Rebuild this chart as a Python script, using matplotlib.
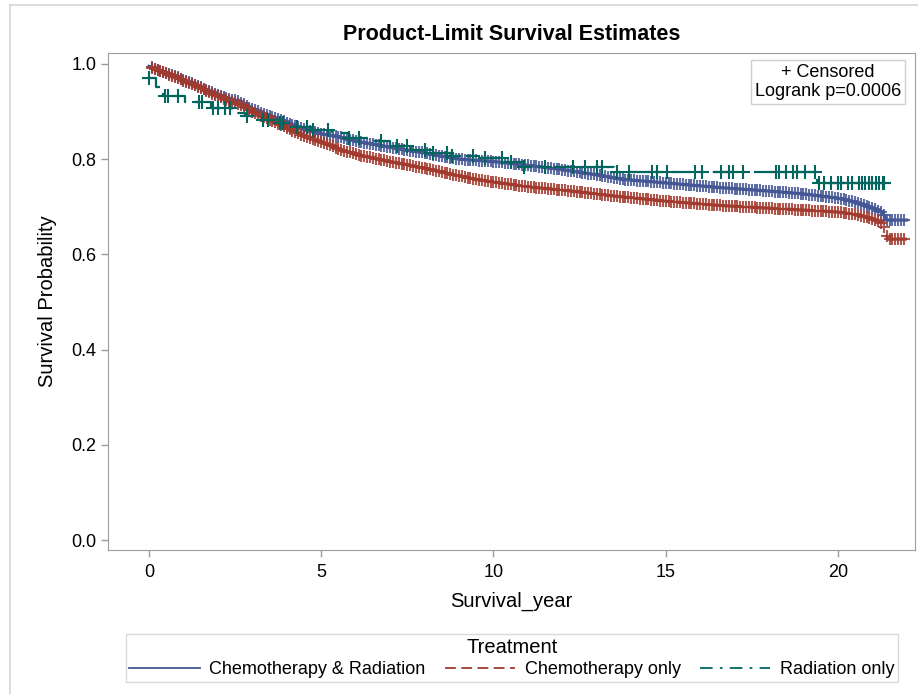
import numpy as np
import matplotlib.pyplot as plt
from matplotlib.lines import Line2D

plt.rcParams['font.family'] = ['Liberation Sans', 'DejaVu Sans']

# KM curves (time in years, survival probability)
cr_time = [0, 1, 2, 2.64, 3, 4, 4.4, 5, 5.5, 6, 7, 8, 9, 10, 11, 12, 13, 13.7,
           15, 16.3, 17, 18, 19, 20, 20.5, 21, 21.3, 21.4, 22]
cr_surv = [0.995, 0.967, 0.935, 0.92, 0.905, 0.877, 0.865, 0.853, 0.847, 0.838,
           0.825, 0.813, 0.800, 0.795, 0.787, 0.778, 0.767, 0.758, 0.750, 0.742,
           0.738, 0.733, 0.727, 0.718, 0.710, 0.697, 0.688, 0.672, 0.672]

c_time = [0, 1, 1.2, 2, 2.64, 3, 4, 4.4, 5, 5.5, 6, 7, 8, 9, 9.6, 10, 11, 12, 13,
          13.7, 15, 16.3, 17, 18, 19, 20, 20.5, 21, 21.3, 21.45, 22]
c_surv = [0.995, 0.965, 0.960, 0.932, 0.914, 0.900, 0.866, 0.852, 0.836, 0.822,
          0.810, 0.795, 0.781, 0.765, 0.756, 0.752, 0.742, 0.735, 0.727, 0.721,
          0.712, 0.704, 0.701, 0.697, 0.693, 0.689, 0.684, 0.675, 0.665, 0.632, 0.632]

r_time = [0, 0.2, 0.42, 1.05, 1.8, 2.4, 2.8, 3.3, 3.8, 4.3, 4.7, 5.3, 5.8, 6.4,
          7.0, 7.6, 8.2, 8.8, 9.6, 10.3, 10.9, 13.5, 19.4, 21.35]
r_surv = [0.970, 0.952, 0.932, 0.920, 0.908, 0.896, 0.890, 0.882, 0.876, 0.868,
          0.862, 0.855, 0.845, 0.838, 0.828, 0.820, 0.812, 0.806, 0.802, 0.795,
          0.784, 0.773, 0.750, 0.750]

# censored observations: the two chemo groups show a mark at nearly every month
cr_last_cens_month = 263
c_last_cens_month = 263
r_cens = [0.0, 0.46, 0.55, 0.84, 1.45, 1.54, 1.86, 2.0, 2.2, 2.35, 2.85, 3.3, 3.45,
          3.8, 3.9, 4.3, 4.6, 4.75, 5.2, 5.8, 6.1, 6.75, 7.2, 7.5, 8.0, 8.25, 8.65,
          8.8, 9.4, 9.75, 10.25, 10.5, 10.9, 11.5, 12.3, 12.65, 13.0, 13.15, 13.6,
          13.95, 14.6, 14.75, 15.05, 15.85, 16.05, 16.6, 16.85, 16.95, 17.25, 18.2,
          18.3, 18.5, 18.7, 18.8, 19.05, 19.35, 19.45, 19.6, 19.8, 20.0, 20.1, 20.3,
          20.4, 20.6, 20.7, 20.8, 20.9, 21.0, 21.1, 21.2, 21.3, 21.35]

labels = ['Chemotherapy & Radiation', 'Chemotherapy only', 'Radiation only']
colors = ['#445694', '#A23A2E', '#01665E']
x_ticks = [0, 5, 10, 15, 20]
y_ticks = [0.0, 0.2, 0.4, 0.6, 0.8, 1.0]

grey = '#9a9ea3'

fig = plt.figure(figsize=(9.18, 6.94), dpi=100)
ax = fig.add_axes([108/918, 1-550/694, 807/918, 497/694])

# chemo & radiation
cr_cens_t = np.arange(1, cr_last_cens_month + 1) / 12
ax.plot(cr_time, cr_surv, color=colors[0], lw=2.2, zorder=3)
ax.plot(cr_cens_t, np.interp(cr_cens_t, cr_time, cr_surv), ls='none', marker='+',
        ms=9, mew=1.5, color=colors[0], alpha=0.85, zorder=3)

# chemo only
c_cens_t = np.arange(1, c_last_cens_month + 1) / 12
ax.plot(c_time, c_surv, color=colors[1], lw=2.2, dashes=(8, 4), zorder=4)
ax.plot(c_cens_t, np.interp(c_cens_t, c_time, c_surv), ls='none', marker='+',
        ms=9, mew=1.5, color=colors[1], alpha=0.85, zorder=4)

# radiation only (step curve)
idx = np.searchsorted(r_time, r_cens, side='right') - 1
ax.plot(r_time, r_surv, drawstyle='steps-post', color=colors[2], lw=1.6,
        dashes=(9, 4, 1.5, 4), zorder=5)
ax.plot(r_cens, np.array(r_surv)[idx], ls='none', marker='+', ms=10, mew=1.5,
        color=colors[2], zorder=5)

ax.set_xlim(-1.19, 22.24)
ax.set_ylim(-0.021, 1.023)
ax.set_xticks(x_ticks)
ax.set_yticks(y_ticks)
ax.set_yticklabels(['%.1f' % v for v in y_ticks])
for s in ax.spines.values():
    s.set_color(grey)
ax.tick_params(colors=grey, labelcolor='black', labelsize=13, length=5, width=1)
ax.tick_params(axis='x', pad=5)
ax.set_xlabel('Survival_year', fontsize=14.5, labelpad=8)
ax.set_ylabel('Survival Probability', fontsize=14.5, labelpad=10)
ax.set_title('Product-Limit Survival Estimates', fontsize=15.5, fontweight='bold', pad=9)

ax.text(0.892, 0.977, '+ Censored\nLogrank p=0.0006', transform=ax.transAxes,
        ha='center', va='top', multialignment='center', fontsize=13, linespacing=1.15,
        bbox=dict(boxstyle='square,pad=0.22', fc='white', ec='#cfcfcf', lw=1))

handles = [Line2D([], [], color=colors[0], lw=1.3),
           Line2D([], [], color=colors[1], lw=1.3, dashes=(6, 3)),
           Line2D([], [], color=colors[2], lw=1.3, dashes=(7, 4, 1.5, 4))]
leg = fig.legend(handles, labels, title='Treatment', ncol=3, loc='center',
                 bbox_to_anchor=(512/918, 1-658/694), fontsize=13,
                 title_fontsize=14.5, frameon=True, fancybox=False,
                 handlelength=3.9, handletextpad=0.55, columnspacing=1.05,
                 borderpad=0.2, borderaxespad=0, labelspacing=0.1)
leg.get_frame().set_edgecolor('#d0d0d0')
leg.get_frame().set_linewidth(1)
leg._legend_box.sep = 3

# outer graph border
fig.add_artist(Line2D([10/918, 10/918], [0, 1-5/694], color='#d6d6d6', lw=1.2))
fig.add_artist(Line2D([10/918, 1], [1-5/694, 1-5/694], color='#d6d6d6', lw=1.2))

fig.savefig('out.png', dpi=100)
